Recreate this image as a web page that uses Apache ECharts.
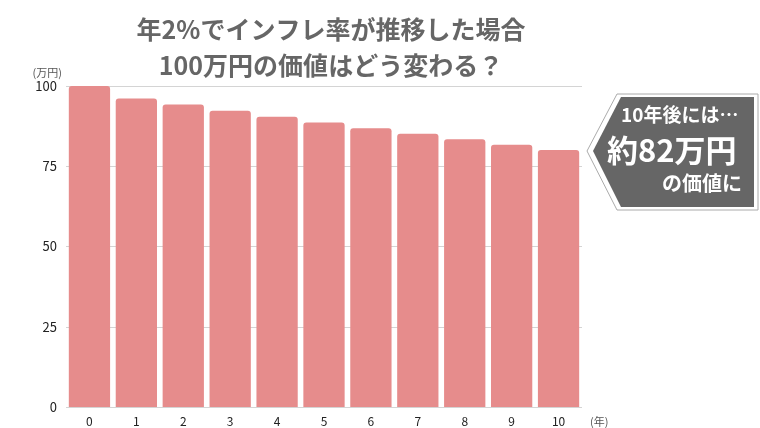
<!DOCTYPE html>
<html lang="ja">

<head>
  <meta charset="UTF-8">
  <title>インフレと100万円の価値</title>
  <script src="https://cdn.jsdelivr.net/npm/echarts@6/dist/echarts.min.js"></script>
  <style>
    html, body { margin: 0; padding: 0; background: #fff; }
    #chart { width: 760px; height: 428px; }
  </style>
</head>

<body>
  <div id="chart"></div>

  <script>
    // データ
    const years = ['0', '1', '2', '3', '4', '5', '6', '7', '8', '9', '10']
    const values = [100, 96.1, 94.2, 92.3, 90.4, 88.6, 86.8, 85.1, 83.4, 81.7, 80.1]
    const yTicks = [0, 25, 50, 75, 100]
    const titleLines = ['年2%でインフレ率が推移した場合', '100万円の価値はどう変わる？']
    const noteLines = ['10年後には…', '約82万円', 'の価値に']

    const font = '"Noto Sans CJK JP", "Noto Sans", sans-serif'
    const chart = echarts.init(document.getElementById('chart'))

    chart.setOption({
      animation: false,
      title: {
        text: titleLines.join('\n'),
        left: 326,
        top: 6,
        textAlign: 'center',
        textStyle: {
          color: '#666',
          fontFamily: font,
          fontSize: 25,
          fontWeight: 'bold',
          lineHeight: 36
        }
      },
      grid: { left: 66, right: 178, top: 86, bottom: 21 },
      xAxis: {
        type: 'category',
        data: years,
        name: '(年)',
        nameLocation: 'end',
        nameGap: 8,
        nameTextStyle: {
          color: '#555', fontSize: 11, fontFamily: font,
          verticalAlign: 'top', padding: [9, 0, 0, 0]
        },
        axisLine: { show: false },
        axisTick: { show: false },
        axisLabel: { color: '#222', fontSize: 12, margin: 8, fontFamily: font }
      },
      yAxis: {
        type: 'value',
        min: yTicks[0],
        max: yTicks[yTicks.length - 1],
        interval: 25,
        name: '(万円)',
        nameLocation: 'end',
        nameGap: 8,
        nameTextStyle: {
          color: '#555', fontSize: 11, fontFamily: font,
          align: 'right', padding: [0, 4, 0, 0]
        },
        axisLabel: { color: '#222', fontSize: 13, margin: 9, fontFamily: font },
        splitLine: { lineStyle: { color: '#d4d4d4' } }
      },
      series: [{
        type: 'bar',
        data: values,
        barCategoryGap: '12%',
        itemStyle: { color: '#e68c8c', borderRadius: [3, 3, 0, 0] }
      }],
      graphic: [
        // 吹き出し（外枠）
        {
          type: 'polygon',
          shape: { points: [[587, 151], [617, 94], [758, 94], [758, 210], [617, 210]] },
          style: { fill: '#fff', stroke: '#aaa', lineWidth: 1 }
        },
        // 吹き出し（本体）
        {
          type: 'polygon',
          shape: { points: [[593, 151], [621, 97], [754, 97], [754, 207], [621, 207]] },
          style: { fill: '#666' }
        },
        {
          type: 'text',
          style: {
            x: 621, y: 115, text: noteLines[0], fill: '#fff',
            font: 'bold 19px ' + font, textVerticalAlign: 'middle'
          }
        },
        {
          type: 'text',
          style: {
            x: 607, y: 150, text: noteLines[1], fill: '#fff',
            font: 'bold 31px ' + font, textVerticalAlign: 'middle'
          }
        },
        {
          type: 'text',
          style: {
            x: 662, y: 183, text: noteLines[2], fill: '#fff',
            font: 'bold 20px ' + font, textVerticalAlign: 'middle'
          }
        }
      ]
    })
  </script>
</body>

</html>
